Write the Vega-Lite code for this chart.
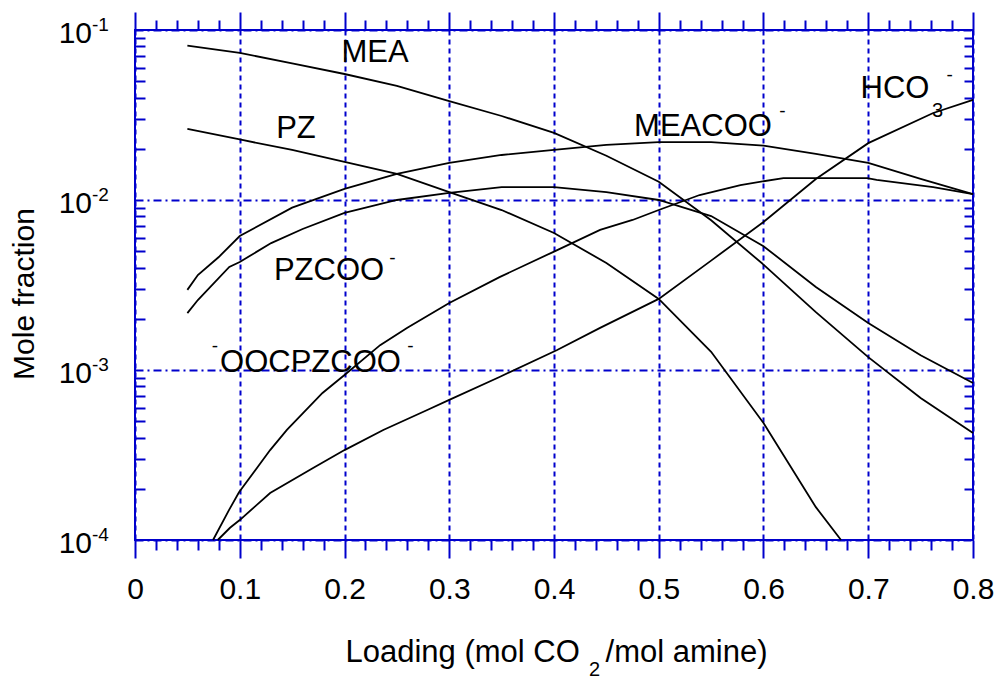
{
  "$schema": "https://vega.github.io/schema/vega-lite/v6.json",
  "width": 838,
  "height": 510,
  "autosize": {"type": "none"},
  "padding": {"left": 135, "top": 30, "right": 27, "bottom": 139},
  "background": "white",
  "config": {
    "view": {"stroke": "#0000cc", "strokeWidth": 2},
    "font": "Liberation Sans",
    "axis": {
      "domain": false,
      "grid": false,
      "labelFlush": false,
      "labelOverlap": false,
      "tickColor": "#0000cc",
      "tickWidth": 2,
      "labelColor": "black",
      "titleColor": "black",
      "labelFont": "Liberation Sans",
      "titleFont": "Liberation Sans",
      "titleFontWeight": "normal",
      "labelFontWeight": "normal"
    },
    "text": {"font": "Liberation Sans", "color": "black"}
  },
  "datasets": {
    "curves": [
      {"s": "MEA", "loading": 0.05, "frac": 0.0809},
      {"s": "MEA", "loading": 0.1, "frac": 0.0733},
      {"s": "MEA", "loading": 0.15, "frac": 0.0636},
      {"s": "MEA", "loading": 0.2, "frac": 0.0551},
      {"s": "MEA", "loading": 0.25, "frac": 0.0469},
      {"s": "MEA", "loading": 0.3, "frac": 0.0382},
      {"s": "MEA", "loading": 0.35, "frac": 0.0312},
      {"s": "MEA", "loading": 0.4, "frac": 0.0248},
      {"s": "MEA", "loading": 0.45, "frac": 0.0182},
      {"s": "MEA", "loading": 0.5, "frac": 0.0128},
      {"s": "MEA", "loading": 0.55, "frac": 0.0076},
      {"s": "MEA", "loading": 0.6, "frac": 0.00417},
      {"s": "MEA", "loading": 0.65, "frac": 0.00219},
      {"s": "MEA", "loading": 0.7, "frac": 0.00119},
      {"s": "MEA", "loading": 0.75, "frac": 0.000684},
      {"s": "MEA", "loading": 0.8, "frac": 0.000426},

      {"s": "PZ", "loading": 0.05, "frac": 0.0262},
      {"s": "PZ", "loading": 0.1, "frac": 0.0227},
      {"s": "PZ", "loading": 0.15, "frac": 0.0197},
      {"s": "PZ", "loading": 0.2, "frac": 0.01675},
      {"s": "PZ", "loading": 0.25, "frac": 0.01423},
      {"s": "PZ", "loading": 0.3, "frac": 0.01114},
      {"s": "PZ", "loading": 0.35, "frac": 0.00873},
      {"s": "PZ", "loading": 0.4, "frac": 0.0064},
      {"s": "PZ", "loading": 0.45, "frac": 0.00426},
      {"s": "PZ", "loading": 0.5, "frac": 0.00262},
      {"s": "PZ", "loading": 0.55, "frac": 0.00128},
      {"s": "PZ", "loading": 0.6, "frac": 0.000488},
      {"s": "PZ", "loading": 0.65, "frac": 0.000156},
      {"s": "PZ", "loading": 0.674, "frac": 0.0001},

      {"s": "MEACOO", "loading": 0.05, "frac": 0.00296},
      {"s": "MEACOO", "loading": 0.06, "frac": 0.00362},
      {"s": "MEACOO", "loading": 0.08, "frac": 0.00462},
      {"s": "MEACOO", "loading": 0.1, "frac": 0.00614},
      {"s": "MEACOO", "loading": 0.15, "frac": 0.00901},
      {"s": "MEACOO", "loading": 0.2, "frac": 0.01161},
      {"s": "MEACOO", "loading": 0.25, "frac": 0.01423},
      {"s": "MEACOO", "loading": 0.3, "frac": 0.01652},
      {"s": "MEACOO", "loading": 0.35, "frac": 0.0184},
      {"s": "MEACOO", "loading": 0.4, "frac": 0.0197},
      {"s": "MEACOO", "loading": 0.45, "frac": 0.0211},
      {"s": "MEACOO", "loading": 0.5, "frac": 0.0219},
      {"s": "MEACOO", "loading": 0.55, "frac": 0.0219},
      {"s": "MEACOO", "loading": 0.6, "frac": 0.0209},
      {"s": "MEACOO", "loading": 0.65, "frac": 0.01866},
      {"s": "MEACOO", "loading": 0.7, "frac": 0.01652},
      {"s": "MEACOO", "loading": 0.75, "frac": 0.0133},
      {"s": "MEACOO", "loading": 0.8, "frac": 0.01084},

      {"s": "PZCOO", "loading": 0.05, "frac": 0.00216},
      {"s": "PZCOO", "loading": 0.06, "frac": 0.00258},
      {"s": "PZCOO", "loading": 0.09, "frac": 0.00404},
      {"s": "PZCOO", "loading": 0.1, "frac": 0.00432},
      {"s": "PZCOO", "loading": 0.13, "frac": 0.00558},
      {"s": "PZCOO", "loading": 0.16, "frac": 0.00675},
      {"s": "PZCOO", "loading": 0.2, "frac": 0.0084},
      {"s": "PZCOO", "loading": 0.25, "frac": 0.01},
      {"s": "PZCOO", "loading": 0.3, "frac": 0.011},
      {"s": "PZCOO", "loading": 0.35, "frac": 0.0119},
      {"s": "PZCOO", "loading": 0.4, "frac": 0.0119},
      {"s": "PZCOO", "loading": 0.45, "frac": 0.01114},
      {"s": "PZCOO", "loading": 0.5, "frac": 0.01},
      {"s": "PZCOO", "loading": 0.55, "frac": 0.00805},
      {"s": "PZCOO", "loading": 0.6, "frac": 0.00535},
      {"s": "PZCOO", "loading": 0.65, "frac": 0.00308},
      {"s": "PZCOO", "loading": 0.7, "frac": 0.00189},
      {"s": "PZCOO", "loading": 0.75, "frac": 0.00122},
      {"s": "PZCOO", "loading": 0.8, "frac": 0.000839},

      {"s": "OOCPZCOO", "loading": 0.0745, "frac": 0.0001},
      {"s": "OOCPZCOO", "loading": 0.0897, "frac": 0.00015},
      {"s": "OOCPZCOO", "loading": 0.0993, "frac": 0.000191},
      {"s": "OOCPZCOO", "loading": 0.129, "frac": 0.000338},
      {"s": "OOCPZCOO", "loading": 0.145, "frac": 0.000444},
      {"s": "OOCPZCOO", "loading": 0.179, "frac": 0.000733},
      {"s": "OOCPZCOO", "loading": 0.2, "frac": 0.000935},
      {"s": "OOCPZCOO", "loading": 0.234, "frac": 0.0014},
      {"s": "OOCPZCOO", "loading": 0.26, "frac": 0.00177},
      {"s": "OOCPZCOO", "loading": 0.3, "frac": 0.00248},
      {"s": "OOCPZCOO", "loading": 0.348, "frac": 0.00352},
      {"s": "OOCPZCOO", "loading": 0.399, "frac": 0.00494},
      {"s": "OOCPZCOO", "loading": 0.444, "frac": 0.00667},
      {"s": "OOCPZCOO", "loading": 0.475, "frac": 0.00763},
      {"s": "OOCPZCOO", "loading": 0.5, "frac": 0.00873},
      {"s": "OOCPZCOO", "loading": 0.539, "frac": 0.0107},
      {"s": "OOCPZCOO", "loading": 0.578, "frac": 0.01225},
      {"s": "OOCPZCOO", "loading": 0.619, "frac": 0.01346},
      {"s": "OOCPZCOO", "loading": 0.699, "frac": 0.01346},
      {"s": "OOCPZCOO", "loading": 0.708, "frac": 0.01312},
      {"s": "OOCPZCOO", "loading": 0.762, "frac": 0.0119},
      {"s": "OOCPZCOO", "loading": 0.8, "frac": 0.01084},

      {"s": "HCO3", "loading": 0.079, "frac": 0.0001},
      {"s": "HCO3", "loading": 0.0907, "frac": 0.000118},
      {"s": "HCO3", "loading": 0.1, "frac": 0.000131},
      {"s": "HCO3", "loading": 0.129, "frac": 0.000189},
      {"s": "HCO3", "loading": 0.17, "frac": 0.000265},
      {"s": "HCO3", "loading": 0.2, "frac": 0.000338},
      {"s": "HCO3", "loading": 0.237, "frac": 0.000444},
      {"s": "HCO3", "loading": 0.279, "frac": 0.000582},
      {"s": "HCO3", "loading": 0.3, "frac": 0.000667},
      {"s": "HCO3", "loading": 0.348, "frac": 0.00091},
      {"s": "HCO3", "loading": 0.403, "frac": 0.00131},
      {"s": "HCO3", "loading": 0.444, "frac": 0.00177},
      {"s": "HCO3", "loading": 0.5, "frac": 0.00262},
      {"s": "HCO3", "loading": 0.55, "frac": 0.0044},
      {"s": "HCO3", "loading": 0.6, "frac": 0.00743},
      {"s": "HCO3", "loading": 0.65, "frac": 0.0133},
      {"s": "HCO3", "loading": 0.7, "frac": 0.0216},
      {"s": "HCO3", "loading": 0.762, "frac": 0.0325},
      {"s": "HCO3", "loading": 0.8, "frac": 0.0388}
    ],
    "labels": [
      {"part": "main", "text": "MEA", "loading": 0.2291, "frac": 0.0648},
      {"part": "main", "text": "PZ", "loading": 0.1537, "frac": 0.02325},
      {"part": "main", "text": "MEACOO", "loading": 0.5422, "frac": 0.0238},
      {"part": "main", "text": "HCO", "loading": 0.7255, "frac": 0.03981},
      {"part": "main", "text": "PZCOO", "loading": 0.1852, "frac": 0.003383},
      {"part": "main", "text": "OOCPZCOO", "loading": 0.1675, "frac": 0.000973},
      {"part": "sup", "text": "-", "loading": 0.6181, "frac": 0.03077},
      {"part": "sup", "text": "-", "loading": 0.7776, "frac": 0.0501},
      {"part": "sup", "text": "-", "loading": 0.2458, "frac": 0.0042},
      {"part": "sup", "text": "-", "loading": 0.0764, "frac": 0.001276},
      {"part": "sup", "text": "-", "loading": 0.263, "frac": 0.001276},
      {"part": "sub", "text": "3", "loading": 0.7661, "frac": 0.03077}
    ]
  },
  "resolve": {"axis": {"x": "independent", "y": "independent"}},
  "layer": [
    {
      "data": {"name": "curves"},
      "mark": {"type": "line", "color": "black", "strokeWidth": 1.8},
      "encoding": {
        "x": {
          "field": "loading", "type": "quantitative",
          "scale": {"domain": [0, 0.8], "nice": false, "zero": false},
          "axis": {
            "orient": "bottom",
            "values": [0, 0.1, 0.2, 0.3, 0.4, 0.5, 0.6, 0.7, 0.8],
            "format": ".1~f",
            "tickSize": 18,
            "labelFontSize": 30,
            "labelPadding": 40,
            "labelBaseline": "alphabetic",
            "grid": true,
            "gridColor": "#0000cc",
            "gridWidth": 2,
            "gridDash": [5, 4],
            "title": "Loading (mol CO\u00a0\u00a0\u00a0/mol amine)",
            "titleFontSize": 31,
            "titleX": 421,
            "titleY": 121,
            "titleBaseline": "alphabetic",
            "titleAlign": "center"
          }
        },
        "y": {
          "field": "frac", "type": "quantitative",
          "scale": {"type": "log", "domain": [0.0001, 0.1], "nice": false},
          "axis": {
            "orient": "left",
            "values": [0.0001, 0.001, 0.01, 0.1],
            "labelExpr": "'10'",
            "ticks": false,
            "labelFontSize": 30,
            "labelAlign": "right",
            "labelBaseline": "alphabetic",
            "labelOffset": 12,
            "labelPadding": 43.5,
            "grid": true,
            "gridColor": "#0000cc",
            "gridWidth": 2,
            "gridDash": [8, 4, 2, 4],
            "title": "Mole fraction",
            "titleFontSize": 30,
            "titleX": -102,
            "titleY": 263.5,
            "titleAngle": 270,
            "titleBaseline": "alphabetic",
            "titleAlign": "center"
          }
        },
        "detail": {"field": "s", "type": "nominal"}
      }
    },
    {
      "data": {"name": "labels"},
      "transform": [{"filter": "datum.part === 'main'"}],
      "mark": {"type": "text", "fontSize": 31, "align": "center", "baseline": "alphabetic", "color": "black"},
      "encoding": {
        "x": {
          "field": "loading", "type": "quantitative",
          "scale": {"domain": [0, 0.8], "nice": false, "zero": false},
          "axis": {
            "orient": "bottom",
            "values": [0.02, 0.04, 0.06, 0.08, 0.12, 0.14, 0.16, 0.18, 0.22, 0.24, 0.26, 0.28, 0.32, 0.34, 0.36, 0.38, 0.42, 0.44, 0.46, 0.48, 0.52, 0.54, 0.56, 0.58, 0.62, 0.64, 0.66, 0.68, 0.72, 0.74, 0.76, 0.78],
            "tickSize": 10,
            "labels": false,
            "title": "2",
            "titleFontSize": 20,
            "titleX": 459,
            "titleY": 135,
            "titleBaseline": "alphabetic",
            "titleAlign": "center"
          }
        },
        "y": {
          "field": "frac", "type": "quantitative",
          "scale": {"type": "log", "domain": [0.0001, 0.1], "nice": false},
          "axis": {
            "orient": "left",
            "values": [0.0001, 0.001, 0.01, 0.1],
            "ticks": false,
            "labelExpr": "'-' + round(-log(datum.value) / LN10)",
            "labelFontSize": 19,
            "labelAlign": "left",
            "labelBaseline": "alphabetic",
            "labelPadding": 43.5,
            "title": null
          }
        },
        "text": {"field": "text", "type": "nominal"}
      }
    },
    {
      "data": {"name": "labels"},
      "transform": [{"filter": "datum.part === 'sup'"}],
      "mark": {"type": "text", "fontSize": 19, "align": "center", "baseline": "alphabetic", "color": "black"},
      "encoding": {
        "x": {
          "field": "loading", "type": "quantitative",
          "scale": {"domain": [0, 0.8], "nice": false, "zero": false},
          "axis": {
            "orient": "top",
            "values": [0, 0.1, 0.2, 0.3, 0.4, 0.5, 0.6, 0.7, 0.8],
            "tickSize": 18,
            "labels": false,
            "title": null
          }
        },
        "y": {
          "field": "frac", "type": "quantitative",
          "scale": {"type": "log", "domain": [0.0001, 0.1], "nice": false},
          "axis": {
            "orient": "left",
            "values": [0.0002, 0.0003, 0.0004, 0.0005, 0.0006, 0.0007, 0.0008, 0.0009, 0.002, 0.003, 0.004, 0.005, 0.006, 0.007, 0.008, 0.009, 0.02, 0.03, 0.04, 0.05, 0.06, 0.07, 0.08, 0.09],
            "tickSize": -10,
            "labels": false,
            "title": null
          }
        },
        "text": {"field": "text", "type": "nominal"}
      }
    },
    {
      "data": {"name": "labels"},
      "transform": [{"filter": "datum.part === 'sub'"}],
      "mark": {"type": "text", "fontSize": 20, "align": "center", "baseline": "alphabetic", "color": "black"},
      "encoding": {
        "x": {
          "field": "loading", "type": "quantitative",
          "scale": {"domain": [0, 0.8], "nice": false, "zero": false},
          "axis": {
            "orient": "top",
            "values": [0.02, 0.04, 0.06, 0.08, 0.12, 0.14, 0.16, 0.18, 0.22, 0.24, 0.26, 0.28, 0.32, 0.34, 0.36, 0.38, 0.42, 0.44, 0.46, 0.48, 0.52, 0.54, 0.56, 0.58, 0.62, 0.64, 0.66, 0.68, 0.72, 0.74, 0.76, 0.78],
            "tickSize": 10,
            "labels": false,
            "title": null
          }
        },
        "y": {
          "field": "frac", "type": "quantitative",
          "scale": {"type": "log", "domain": [0.0001, 0.1], "nice": false},
          "axis": {
            "orient": "right",
            "values": [0.0002, 0.0003, 0.0004, 0.0005, 0.0006, 0.0007, 0.0008, 0.0009, 0.002, 0.003, 0.004, 0.005, 0.006, 0.007, 0.008, 0.009, 0.02, 0.03, 0.04, 0.05, 0.06, 0.07, 0.08, 0.09],
            "tickSize": -9,
            "labels": false,
            "title": null
          }
        },
        "text": {"field": "text", "type": "nominal"}
      }
    }
  ]
}
